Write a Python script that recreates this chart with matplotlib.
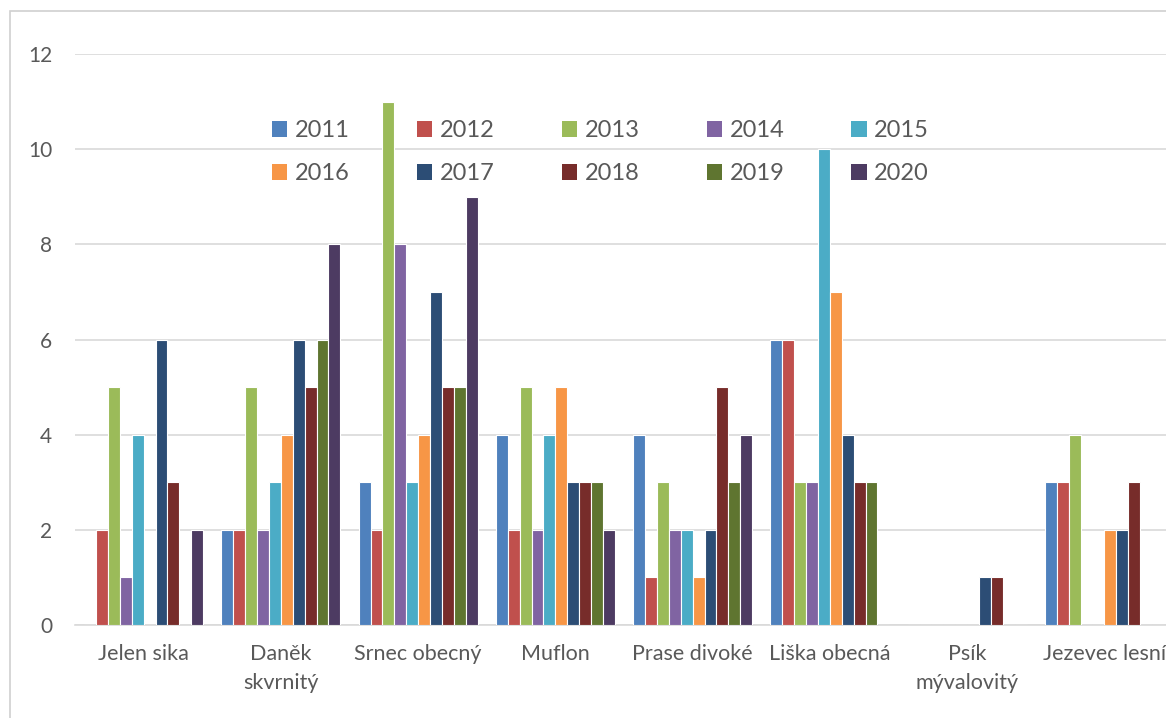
import matplotlib
matplotlib.use("Agg")
import matplotlib.pyplot as plt
from matplotlib.patches import Rectangle, Patch
import numpy as np

categories = ["Jelen sika", "Daněk\nskvrnitý", "Srnec obecný", "Muflon",
              "Prase divoké", "Liška obecná", "Psík\nmývalovitý", "Jezevec lesní"]
years = ["2011", "2012", "2013", "2014", "2015", "2016", "2017", "2018", "2019", "2020"]
values = {
    "2011": [0, 2, 3, 4, 4, 6, 0, 3],
    "2012": [2, 2, 2, 2, 1, 6, 0, 3],
    "2013": [5, 5, 11, 5, 3, 3, 0, 4],
    "2014": [1, 2, 8, 2, 2, 3, 0, 0],
    "2015": [4, 3, 3, 4, 2, 10, 0, 0],
    "2016": [0, 4, 4, 5, 1, 7, 0, 2],
    "2017": [6, 6, 7, 3, 2, 4, 1, 2],
    "2018": [3, 5, 5, 3, 5, 3, 1, 3],
    "2019": [0, 6, 5, 3, 3, 3, 0, 0],
    "2020": [2, 8, 9, 2, 4, 0, 0, 0],
}
colors = ["#4F81BD", "#C0504D", "#9BBB59", "#8064A2", "#4BACC6",
          "#F79646", "#2C4D75", "#772C2A", "#5F7530", "#4D3B62"]

plt.rcParams['font.family'] = ['Lato', 'DejaVu Sans']
txt = "#595959"
W, H = 1166, 718
fig = plt.figure(figsize=(W / 100, H / 100), dpi=100)

# outer chart border (left and top visible; right/bottom outside the image)
fig.patches.append(Rectangle((9.5 / W, -0.1), 1.5, (H - 11) / H + 0.1,
                             transform=fig.transFigure, fill=False,
                             edgecolor="#D0D0D0", linewidth=1.2))

ax = fig.add_axes([75 / W, 93 / H, 1098 / W, 571 / H])
x = np.arange(len(categories))
pitch = 0.0867
for j, y in enumerate(years):
    ax.bar(x + (j - 4.5) * pitch, values[y], width=pitch, color=colors[j],
           edgecolor="white", linewidth=0.8, zorder=3, label=y)

ax.set_xlim(-0.5, len(categories) - 0.5)
ax.set_ylim(0, 12)
ax.set_yticks(range(0, 13, 2))
ax.yaxis.grid(True, color="#D9D9D9", linewidth=1.2, zorder=0)
ax.set_axisbelow(True)
for s in ["top", "right", "left"]:
    ax.spines[s].set_visible(False)
ax.spines["bottom"].set_color("#D9D9D9")
ax.spines["bottom"].set_linewidth(1.2)
ax.set_xticks(x)
ax.set_xticklabels(categories, fontsize=15.5, color=txt, linespacing=1.55)
ax.tick_params(axis="x", length=0, pad=14)
ax.tick_params(axis="y", length=0, pad=16.5, labelsize=15, labelcolor=txt)

handles = [Patch(facecolor=c) for c in colors]
order = []
for col in range(5):
    order += [col, col + 5]
leg = fig.legend([handles[i] for i in order], [years[i] for i in order],
                 ncol=5, loc="upper left", bbox_to_anchor=(272 / W, (H - 120) / H),
                 frameon=False, fontsize=17, handlelength=0.65, handleheight=0.65,
                 handletextpad=0.32, columnspacing=2.84, labelspacing=0.95,
                 borderpad=0, borderaxespad=0)
for t in leg.get_texts():
    t.set_color(txt)

fig.savefig("out.png", dpi=100)
